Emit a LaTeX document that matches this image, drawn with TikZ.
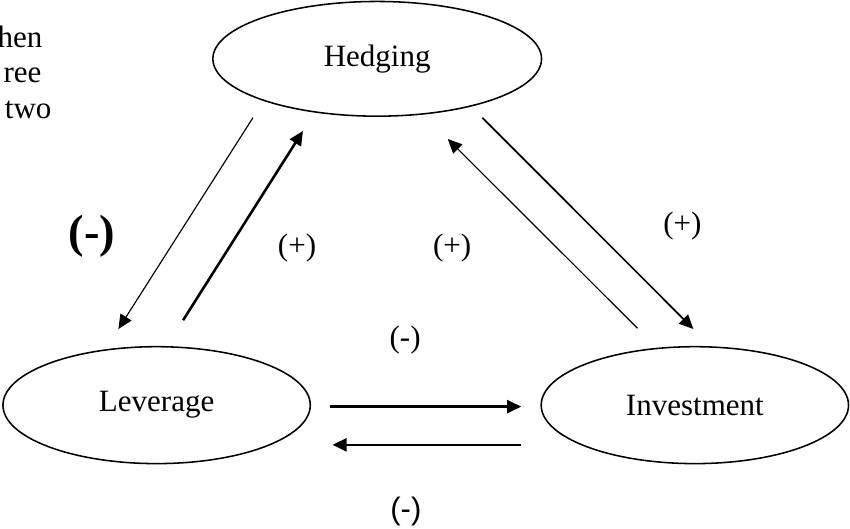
\documentclass[tikz,border=0pt]{standalone}
\usepackage{fontspec}
\setmainfont{Liberation Serif}
\newfontfamily\arialfont{Liberation Sans}
\usepackage{tikz}
\usetikzlibrary{shapes.geometric, positioning, arrows.meta}

\begin{document}
\begin{tikzpicture}[
    every node/.style={font=\fontsize{12}{14}\selectfont},
    oval/.style={ellipse, draw=black, line width=0.6pt, inner sep=0pt, minimum width=4.18cm, minimum height=1.59cm},
    sign_label/.style={inner sep=0pt},
    arrow_thin/.style={draw=black, line width=0.45pt, -{Triangle[length=5.5pt, width=5pt]}},
    arrow_mid/.style={draw=black, line width=0.65pt, -{Triangle[length=5.5pt, width=5pt]}},
    arrow_thick/.style={draw=black, line width=1pt, -{Triangle[length=5.5pt, width=5pt]}}
]

\useasboundingbox (0,0) rectangle (11.56,7.19);

% Cut-off text in the top left corner
\node[sign_label, anchor=base east] (frag1) at (0.585,6.54) {hen};
\node[sign_label, anchor=base east] (frag2) at (0.571,6.07) {ree};
\node[sign_label, anchor=base east] (frag3) at (0.707,5.58) {two};

% The three variables
\node[oval, minimum width=4.47cm, minimum height=1.56cm] (hedging) at (5.13,6.39) {Hedging\hspace{0.3cm}};
\node[oval] (leverage) at (2.13,1.68) {Leverage};
\node[oval] (investment) at (9.45,1.68) {Investment\hspace{0.14cm}};

% Hedging <-> Leverage
\draw[arrow_thin] ([shift={(-1.69,-0.01)}]hedging.south) -- ([shift={(-0.52,0.23)}]leverage.north);
\draw[arrow_thick] ([shift={(0.36,0.35)}]leverage.north) -- ([shift={(-1.01,-0.19)}]hedging.south);

% Hedging <-> Investment
\draw[arrow_mid] ([shift={(1.43,-0.01)}]hedging.south) -- ([shift={(-0.02,0.23)}]investment.north);
\draw[arrow_thin] ([shift={(-0.78,0.24)}]investment.north) -- ([shift={(0.96,-0.30)}]hedging.south);

% Leverage <-> Investment
\draw[arrow_thick] ([shift={(0.26,-0.02)}]leverage.east) -- ([shift={(-0.26,-0.02)}]investment.west);
\draw[arrow_thick] ([shift={(-0.26,-0.54)}]investment.west) -- ([shift={(0.29,-0.54)}]leverage.east);

% Signs of the effects
\node[sign_label, font=\fontsize{18}{20}\selectfont\bfseries] (sign_hl) at (1.25,3.97) {(-)};
\node[sign_label] (sign_lh) at (4.04,3.82) {(+)};
\node[sign_label] (sign_ih) at (6.15,3.82) {(+)};
\node[sign_label] (sign_hi) at (9.28,4.11) {(+)};
\node[sign_label] (sign_li) at (5.51,2.56) {(-)};
\node[sign_label, font=\fontsize{12}{14}\selectfont\arialfont] (sign_il) at (5.52,0.23) {(-)};

\end{tikzpicture}
\end{document}
